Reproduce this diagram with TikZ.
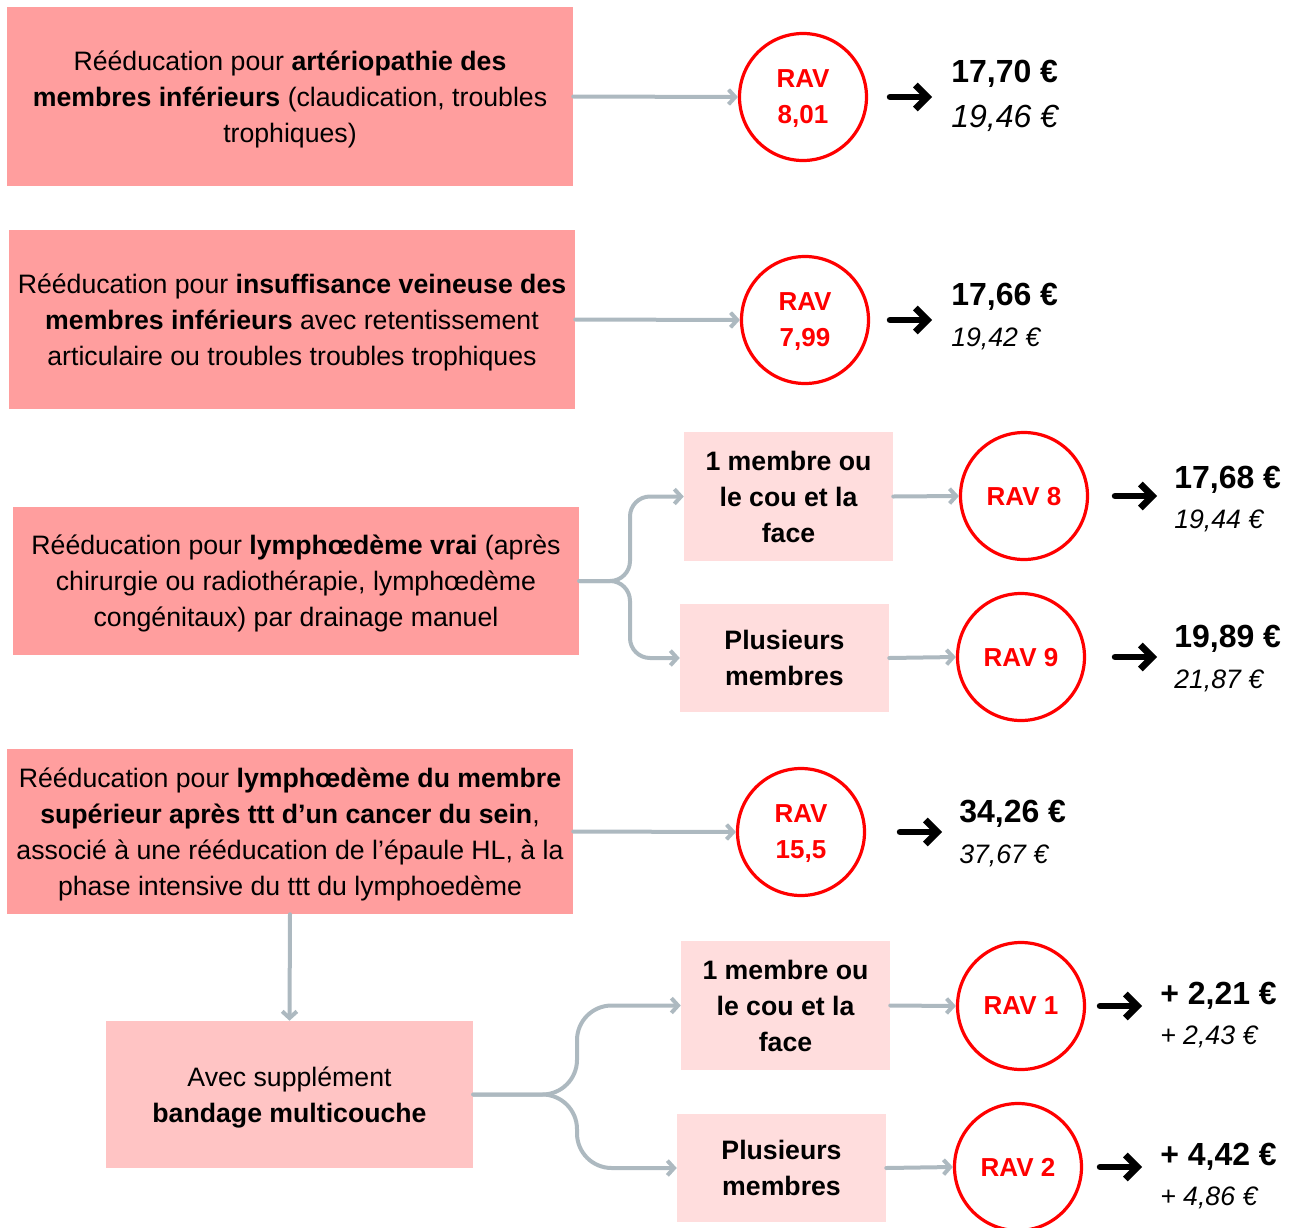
\documentclass[tikz,border=0pt]{standalone}
\usepackage{fontspec}
\setmainfont{Liberation Sans}
\usetikzlibrary{arrows.meta}

\definecolor{boxStrong}{HTML}{FF9E9E}
\definecolor{boxSoft}{HTML}{FFDDDD}
\definecolor{boxMid}{HTML}{FFC4C4}
\definecolor{linkGrey}{HTML}{ADB9C0}
\definecolor{ravRed}{HTML}{FF0000}

\begin{document}
\begin{tikzpicture}
[x=0.75pt,y=-0.75pt,%
  mainDecorate/.style={fill=boxStrong,align=center,inner sep=0pt,text depth=0pt,minimum width=566*0.75pt,font=\fontsize{20}{27}\selectfont},%
  subDecorate/.style={fill=boxSoft,align=center,inner sep=0pt,minimum width=209*0.75pt,font=\fontsize{20}{27}\selectfont\bfseries},%
  ravDecorate/.style={shape=circle,draw=ravRed,line width=2.4pt,minimum size=127*0.75pt,inner sep=0pt,text depth=0pt,align=center,text=ravRed,font=\fontsize{19.5}{27}\selectfont\bfseries},%
  linkDecorate/.style={draw=linkGrey,line width=3pt,line cap=round,-{Straight Barb[length=5pt,width=11pt]}},%
  bigArrow/.style={line width=5pt,line cap=round,-{Straight Barb[length=9pt,width=18pt]}}]
\useasboundingbox (0,0) rectangle (1293,1228);
%% main boxes
\node[mainDecorate,minimum height=179*0.75pt] (b1) at (290,96.5)
  {Rééducation pour \textbf{artériopathie des}\\
   \textbf{membres inférieurs} (claudication, troubles\\
   trophiques)};
\node[mainDecorate,minimum height=179*0.75pt] (b2) at (292,319.5)
  {Rééducation pour \textbf{insuffisance veineuse des}\\
   \textbf{membres inférieurs} avec retentissement\\
   articulaire ou troubles troubles trophiques};
\node[mainDecorate,minimum height=148*0.75pt] (b3) at (296,581)
  {Rééducation pour \textbf{lymphœdème vrai} (après\\
   chirurgie ou radiothérapie, lymphœdème\\
   congénitaux) par drainage manuel};
\node[mainDecorate,minimum height=165*0.75pt] (b4) at (290,831.5)
  {Rééducation pour \textbf{lymphœdème du membre}\\
   \textbf{supérieur après ttt d’un cancer du sein},\\
   associé à une rééducation de l’épaule HL, à la\\
   phase intensive du ttt du lymphoedème};
\node[mainDecorate,fill=boxMid,minimum width=367*0.75pt,minimum height=147*0.75pt] (b5) at (289.5,1094.5)
  {Avec supplément\\ \textbf{bandage multicouche}};
%% sub boxes
\node[subDecorate,minimum height=129*0.75pt] (s3a) at (788.5,496.5) {1 membre ou\\ le cou et la\\ face};
\node[subDecorate,minimum height=108*0.75pt] (s3b) at (784.5,658) {Plusieurs\\ membres};
\node[subDecorate,minimum height=129*0.75pt] (s5a) at (785.5,1005.5) {1 membre ou\\ le cou et la\\ face};
\node[subDecorate,minimum height=108*0.75pt] (s5b) at (781.5,1168) {Plusieurs\\ membres};
%% RAV circles
\foreach \name/\x/\y/\txt in {
  c1/803/97/{RAV\\8,01}, c2/805/320/{RAV\\7,99},
  c3/1024/496/{RAV 8}, c4/1021/657/{RAV 9},
  c5/801/832/{RAV\\15,5}, c6/1021/1006/{RAV 1}, c7/1018/1167/{RAV 2}}
{
  \node[ravDecorate] (\name) at (\x,\y) {\txt};
}
%% prices
\foreach \name/\x/\y/\yy/\pbold/\pital/\sz in {
  p1/951/74/118/{17,70 €}/{19,46 €}/24, p2/951/297/339/{17,66 €}/{19,42 €}/20,
  p3/1174/480/521/{17,68 €}/{19,44 €}/20, p4/1174/639/681/{19,89 €}/{21,87 €}/20,
  p5/959/814/856/{34,26 €}/{37,67 €}/20, p6/1160/996/1037/{+ 2,21 €}/{+ 2,43 €}/20,
  p7/1160/1157/1198/{+ 4,42 €}/{+ 4,86 €}/20}
{
  \node[anchor=west,inner sep=0pt,font=\fontsize{24}{28}\selectfont\bfseries] (\name) at (\x,\y) {\pbold};
  \node[anchor=west,inner sep=0pt,font=\fontsize{\sz}{24}\selectfont\itshape] (\name i) at (\x,\yy) {\pital};
}
%% black arrows
\foreach \c/\d in {c1/22, c2/20, c3/26, c4/29, c5/34, c6/14, c7/17}
  \draw[bigArrow] (\c.east) ++(\d,0) -- ++(42,0);
%% grey links
\draw[linkDecorate] (b1.east) -- (c1.west);
\draw[linkDecorate] (b2.east) -- (c2.west);
\draw[linkDecorate] (b4.east) -- (c5.west);
\draw[linkDecorate] (b4.south) -- (b5.north);
\draw[linkDecorate,rounded corners=15pt] (b3.east) -- (630,581) -- (630,496.5) -- (s3a.west);
\draw[linkDecorate,rounded corners=15pt] (b3.east) -- (630,581) -- (630,658) -- (s3b.west);
\draw[linkDecorate,rounded corners=26pt] (b5.east) -- (577,1094.5) -- (577,1005.5) -- (s5a.west);
\draw[linkDecorate,rounded corners=26pt] (b5.east) -- (577,1094.5) -- (577,1168) -- (s5b.west);
\foreach \s/\c in {s3a/c3, s3b/c4, s5a/c6, s5b/c7}
  \draw[linkDecorate] (\s.east) -- (\c.west);
\end{tikzpicture}
\end{document}
